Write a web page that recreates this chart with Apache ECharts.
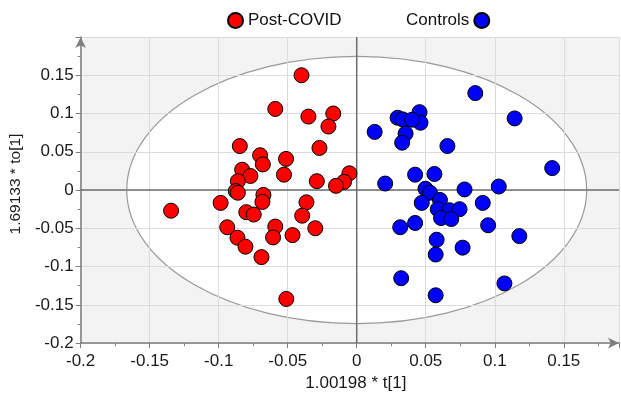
<!DOCTYPE html>
<html>
<head>
<meta charset="utf-8">
<script src="https://cdn.jsdelivr.net/npm/echarts@6/dist/echarts.min.js"></script>
<style>
  html, body { margin: 0; padding: 0; background: #fff; }
  #chart { width: 621px; height: 397px; }
</style>
</head>
<body>
<div id="chart"></div>
<script>
// scores: [t[1], to[1]]
const postCovid = [
  [-0.040, 0.150], [-0.059, 0.106], [-0.035, 0.096], [-0.017, 0.100],
  [-0.0205, 0.083], [-0.0847, 0.0575], [-0.027, 0.055], [-0.070, 0.0455],
  [-0.0512, 0.0407], [-0.068, 0.0335], [-0.083, 0.0266], [-0.077, 0.0184],
  [-0.0527, 0.0201], [-0.0289, 0.0116], [-0.0053, 0.0219], [-0.0092, 0.0107],
  [-0.015, 0.0055], [-0.0861, 0.0116], [-0.0876, -0.0013], [-0.0861, -0.0035],
  [-0.1345, -0.027], [-0.0986, -0.0168], [-0.080, -0.0289], [-0.0746, -0.032],
  [-0.0676, -0.0064], [-0.0683, -0.0155], [-0.0938, -0.0486], [-0.0864, -0.0623],
  [-0.0806, -0.074], [-0.069, -0.0876], [-0.059, -0.0477], [-0.0606, -0.0619],
  [-0.0465, -0.0589], [-0.0364, -0.016], [-0.0395, -0.0335], [-0.030, -0.0499],
  [-0.051, -0.1423]
];

const controls = [
  [0.0859, 0.1267], [0.1144, 0.0936], [0.013, 0.076], [0.0296, 0.0945],
  [0.0334, 0.0923], [0.0455, 0.1018], [0.0462, 0.088], [0.0401, 0.0919],
  [0.0354, 0.0738], [0.0329, 0.0619], [0.0657, 0.0575], [0.1416, 0.0287],
  [0.0423, 0.0201], [0.0563, 0.021], [0.0206, 0.0085], [0.0781, 0.0008],
  [0.1029, 0.0046], [0.0498, 0.0017], [0.0531, -0.0035],
  [0.0471, -0.0168], [0.0603, -0.0129], [0.0587, -0.025], [0.0671, -0.0263],
  [0.0745, -0.025], [0.0611, -0.0366], [0.0685, -0.0379], [0.0913, -0.0168],
  [0.0423, -0.043], [0.0315, -0.0486], [0.0952, -0.046], [0.1178, -0.0602],
  [0.0579, -0.0649], [0.0767, -0.0753], [0.0572, -0.0843], [0.0322, -0.1152],
  [0.107, -0.122], [0.0572, -0.1375]
];

// Hotelling T2 ellipse: center and semi-axes in score units
const ellipseCenter = [0, 0];
const ellipseRadii = [0.1666, 0.1746];

const xRange = [-0.2, 0.19];
const yRange = [-0.2, 0.2];
const tickStep = 0.05;

const FONT = "'Liberation Sans', Arial, sans-serif";

const chart = echarts.init(document.getElementById("chart"));

const axisCommon = {
  type: "value",
  interval: tickStep,
  axisLine: {
    show: true,
    onZero: false,
    symbol: ["none", "arrow"],
    symbolSize: [8, 11],
    lineStyle: { color: "#7f7f7f", width: 1.5 },
  },
  axisTick: { show: true, length: 5, lineStyle: { color: "#7f7f7f" } },
  minorTick: { show: true, splitNumber: 2, length: 3, lineStyle: { color: "#7f7f7f" } },
  splitLine: { show: true, lineStyle: { color: "#dcdcdc", width: 1 } },
  axisLabel: {
    color: "#1a1a1a",
    fontSize: 17,
    fontFamily: FONT,
    showMaxLabel: false,
    formatter: (v) => String(Math.round(v * 1000) / 1000),
  },
  nameLocation: "middle",
  nameTextStyle: { color: "#1a1a1a", fontSize: 17, fontFamily: FONT },
};

chart.setOption({
  animation: false,
  textStyle: { fontFamily: FONT },
  grid: { left: 77, right: 2, top: 37, bottom: 49, containLabel: false },
  legend: [
    {
      data: ["Post-COVID"],
      left: 222,
      top: 7,
      icon: "circle",
      itemWidth: 15,
      itemHeight: 15,
      textStyle: { fontSize: 17, color: "#111", fontFamily: FONT },
    },
    {
      data: ["Controls"],
      left: 401,
      top: 7,
      align: "right",
      icon: "circle",
      itemWidth: 15,
      itemHeight: 15,
      textStyle: { fontSize: 17, color: "#111", fontFamily: FONT },
    },
  ],
  xAxis: Object.assign({}, axisCommon, {
    min: xRange[0],
    max: xRange[1],
    name: "1.00198 * t[1]",
    nameGap: 30,
    nameTextStyle: Object.assign({}, axisCommon.nameTextStyle, { padding: [0, 0, 0, 12] }),
    axisLabel: Object.assign({}, axisCommon.axisLabel, { margin: 10 }),
  }),
  yAxis: Object.assign({}, axisCommon, {
    min: yRange[0],
    max: yRange[1],
    name: "1.69133 * to[1]",
    nameGap: 46,
    nameTextStyle: Object.assign({}, axisCommon.nameTextStyle, { fontSize: 15.5, padding: [0, 0, 0, 12] }),
    axisLabel: Object.assign({}, axisCommon.axisLabel, { margin: 7 }),
  }),
  series: [
    {
      type: "custom",
      z: -1,
      silent: true,
      data: [ellipseCenter],
      renderItem: (params, api) => {
        const cs = params.coordSys;
        const c = api.coord(ellipseCenter);
        const e = api.coord([ellipseCenter[0] + ellipseRadii[0], ellipseCenter[1] + ellipseRadii[1]]);
        return {
          type: "group",
          children: [
            {
              type: "rect",
              shape: { x: cs.x, y: cs.y, width: cs.width, height: cs.height },
              style: { fill: "#f3f3f3" },
            },
            {
              type: "ellipse",
              shape: { cx: c[0], cy: c[1], rx: Math.abs(e[0] - c[0]), ry: Math.abs(e[1] - c[1]) },
              style: { fill: "#ffffff", stroke: "#9a9a9a", lineWidth: 1.2 },
            },
          ],
        };
      },
    },
    {
      // zero lines
      type: "line",
      z: 1,
      silent: true,
      symbol: "none",
      data: [[0, yRange[0]], [0, yRange[1]]],
      lineStyle: { color: "#6e6e6e", width: 1.5 },
    },
    {
      type: "line",
      z: 1,
      silent: true,
      symbol: "none",
      data: [[xRange[0], 0], [xRange[1], 0]],
      lineStyle: { color: "#6e6e6e", width: 1.5 },
    },
    {
      name: "Post-COVID",
      type: "scatter",
      z: 3,
      data: postCovid,
      symbolSize: 15,
      itemStyle: { color: "#ff0000", borderColor: "#000", borderWidth: 1, opacity: 1 },
    },
    {
      name: "Controls",
      type: "scatter",
      z: 3,
      data: controls,
      symbolSize: 15,
      itemStyle: { color: "#0000ff", borderColor: "#000", borderWidth: 1, opacity: 1 },
    },
  ],
});
</script>
</body>
</html>
